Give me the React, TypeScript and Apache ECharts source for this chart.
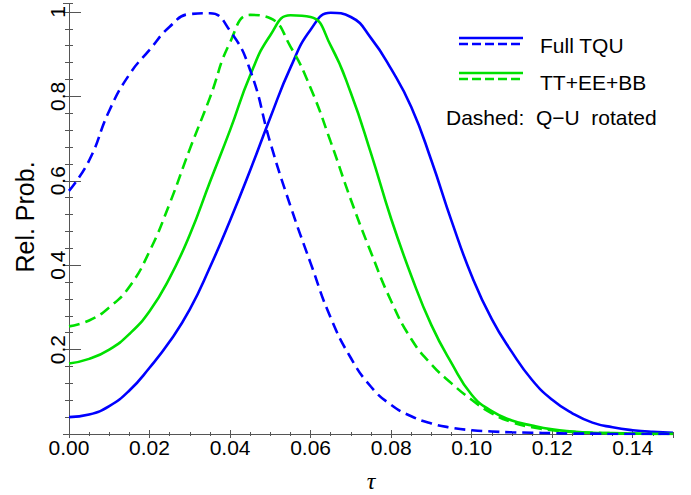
import React, { useEffect, useRef } from "react";
import * as echarts from "echarts";

// tau grid (x values)
const tauGrid = [
  0, 0.005, 0.01, 0.015, 0.02, 0.025, 0.03, 0.035, 0.04, 0.045, 0.05, 0.055, 0.06, 0.065, 0.07, 0.075,
  0.08, 0.085, 0.09, 0.095, 0.1, 0.105, 0.11, 0.115, 0.12, 0.125, 0.13, 0.135, 0.14, 0.145, 0.15,
];

// Full TQU (solid blue)
const fullTQU = [
  0.04, 0.046, 0.066, 0.103, 0.157, 0.219, 0.295, 0.395, 0.506, 0.625, 0.75, 0.868, 0.958, 0.998, 0.988, 0.938,
  0.865, 0.775, 0.648, 0.505, 0.375, 0.272, 0.194, 0.128, 0.081, 0.049, 0.027, 0.016, 0.009, 0.005, 0.003,
];

// Full TQU, Q-U rotated (dashed blue)
const fullTQURot = [
  0.576, 0.648, 0.766, 0.852, 0.91, 0.965, 0.995, 0.997, 0.955, 0.862, 0.69, 0.54, 0.405, 0.275, 0.18, 0.112,
  0.069, 0.042, 0.025, 0.015, 0.009, 0.006, 0.004, 0.003, 0.002, 0.001, 0.001, 0.0, 0.0, 0.0, 0.0,
];

// TT+EE+BB (solid green)
const ttEEBB = [
  0.167, 0.178, 0.2, 0.237, 0.291, 0.37, 0.472, 0.597, 0.72, 0.85, 0.945, 0.992, 0.988, 0.92, 0.808, 0.665,
  0.51, 0.375, 0.258, 0.168, 0.093, 0.054, 0.032, 0.02, 0.011, 0.006, 0.003, 0.002, 0.001, 0.0, 0.0,
];

// TT+EE+BB, Q-U rotated (dashed green)
const ttEEBBRot = [
  0.255, 0.269, 0.3, 0.349, 0.433, 0.546, 0.675, 0.797, 0.928, 0.993, 0.985, 0.918, 0.82, 0.692, 0.555, 0.43,
  0.315, 0.225, 0.165, 0.12, 0.081, 0.049, 0.028, 0.016, 0.009, 0.005, 0.003, 0.002, 0.001, 0.0, 0.0,
];

const legendLabels = ["Full TQU", "TT+EE+BB"];
const noteText = "Dashed:\u00a0 Q\u2212U\u00a0 rotated";
const xTitle = "\u03c4";
const yTitle = "Rel. Prob.";

const BLUE = "#0000ff";
const GREEN = "#00e000";
const AXIS = "#555555";
const FONT = "Liberation Sans, Arial, Helvetica, sans-serif";

const pairs = (ys: number[]) => tauGrid.map((x, i) => [x, ys[i]]);

export default function App() {
  const ref = useRef<HTMLDivElement>(null);
  useEffect(() => {
    document.body.style.margin = "0";
    const chart = echarts.init(ref.current!, null, { renderer: "svg" });
    const xBase = {
      type: "value" as const,
      min: 0,
      max: 0.15,
      splitLine: { show: false },
    };
    const yBase = {
      type: "value" as const,
      min: 0,
      max: 1.02,
      splitLine: { show: false },
    };
    const line = { lineStyle: { color: AXIS, width: 1 } };
    const mkSeries = (name: string, data: number[], color: string, dashed: boolean) => ({
      name,
      type: "line",
      data: pairs(data),
      smooth: 0.5,
      showSymbol: false,
      symbol: "none",
      lineStyle: { color, width: 2.6, type: dashed ? [11, 6] : "solid" },
      xAxisIndex: 0,
      yAxisIndex: 0,
      z: 3,
    });
    chart.setOption({
      animation: false,
      grid: { left: 69, right: 18, top: 3.5, bottom: 61, containLabel: false },
      xAxis: [
        {
          ...xBase,
          position: "bottom",
          interval: 0.02,
          axisLine: { show: true, ...line },
          axisTick: { show: true, inside: true, length: 4, ...line },
          axisLabel: {
            show: true,
            formatter: (v: number) => v.toFixed(2),
            fontSize: 21,
            fontFamily: FONT,
            color: "#000",
            margin: 3,
            showMaxLabel: false,
          },
        },
        {
          ...xBase,
          position: "bottom",
          interval: 0.005,
          axisLine: { show: false },
          axisTick: { show: true, inside: true, length: 2, ...line },
          axisLabel: { show: false },
        },
        {
          ...xBase,
          position: "top",
          interval: 0.02,
          axisLine: { show: true, ...line },
          axisTick: { show: true, inside: true, length: 4, ...line },
          axisLabel: { show: false },
        },
        {
          ...xBase,
          position: "top",
          interval: 0.005,
          axisLine: { show: false },
          axisTick: { show: true, inside: true, length: 2, ...line },
          axisLabel: { show: false },
        },
      ],
      yAxis: [
        {
          ...yBase,
          position: "left",
          interval: 0.2,
          axisLine: { show: true, ...line },
          axisTick: { show: true, inside: true, length: 12, ...line },
          axisLabel: {
            show: true,
            rotate: 90,
            align: "center",
            verticalAlign: "bottom",
            formatter: (v: number) => (v < 0.01 || v > 1.001 ? "" : Math.abs(v - 1) < 1e-6 ? "1" : v.toFixed(1)),
            fontSize: 21,
            fontFamily: FONT,
            color: "#000",
            margin: 1,
            showMaxLabel: false,
            showMinLabel: false,
          },
        },
        {
          ...yBase,
          position: "left",
          interval: 0.04,
          axisLine: { show: false },
          axisTick: { show: true, inside: true, length: 4, ...line },
          axisLabel: { show: false },
        },
        {
          ...yBase,
          position: "right",
          interval: 0.2,
          axisLine: { show: true, ...line },
          axisTick: { show: true, inside: true, length: 6, ...line },
          axisLabel: { show: false },
        },
        {
          ...yBase,
          position: "right",
          interval: 0.04,
          axisLine: { show: false },
          axisTick: { show: true, inside: true, length: 4, ...line },
          axisLabel: { show: false },
        },
      ],
      series: [
        mkSeries(legendLabels[0], fullTQU, BLUE, false),
        mkSeries(legendLabels[1], ttEEBB, GREEN, false),
        mkSeries(legendLabels[1] + " rotated", ttEEBBRot, GREEN, true),
        mkSeries(legendLabels[0] + " rotated", fullTQURot, BLUE, true),
      ],
      graphic: [
        {
          type: "text",
          x: 371,
          y: 481,
          style: {
            text: xTitle,
            font: "italic 24px 'Liberation Serif', 'DejaVu Serif', serif",
            fill: "#000",
            align: "center",
            verticalAlign: "middle",
          },
        },
        {
          type: "text",
          x: 25,
          y: 217,
          rotation: Math.PI / 2,
          style: {
            text: yTitle,
            font: `25px ${FONT}`,
            fill: "#000",
            align: "center",
            verticalAlign: "middle",
          },
        },
        { type: "line", shape: { x1: 459, y1: 38, x2: 523, y2: 38 }, style: { stroke: BLUE, lineWidth: 2.6 } },
        {
          type: "line",
          shape: { x1: 459, y1: 44, x2: 523, y2: 44 },
          style: { stroke: BLUE, lineWidth: 2.6, lineDash: [9, 4] },
        },
        { type: "line", shape: { x1: 459, y1: 73, x2: 523, y2: 73 }, style: { stroke: GREEN, lineWidth: 2.6 } },
        {
          type: "line",
          shape: { x1: 459, y1: 79, x2: 523, y2: 79 },
          style: { stroke: GREEN, lineWidth: 2.6, lineDash: [9, 4] },
        },
        {
          type: "text",
          x: 540,
          y: 45,
          style: { text: legendLabels[0], font: `21px ${FONT}`, fill: "#000", align: "left", verticalAlign: "middle" },
        },
        {
          type: "text",
          x: 540,
          y: 82,
          style: { text: legendLabels[1], font: `21px ${FONT}`, fill: "#000", align: "left", verticalAlign: "middle" },
        },
        {
          type: "text",
          x: 446,
          y: 117,
          style: { text: noteText, font: `21px ${FONT}`, fill: "#000", align: "left", verticalAlign: "middle" },
        },
      ],
    });
    return () => chart.dispose();
  }, []);
  return <div ref={ref} style={{ width: 691, height: 495, position: "absolute", left: 0, top: 0 }} />;
}
